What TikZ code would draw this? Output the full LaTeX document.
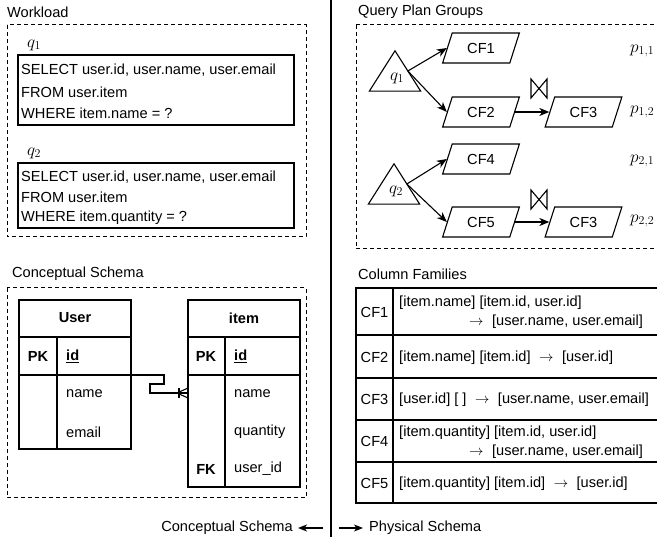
\documentclass[tikz,border=0pt]{standalone}
\usepackage[no-math]{fontspec}
\setmainfont{Liberation Sans}
\usetikzlibrary{shapes.geometric,arrows.meta,calc}
\newcommand{\myarr}{\hspace{8.5pt}$\rightarrow$\hspace{8.5pt}}
\tikzset{
  txt/.style={font=\fontsize{14.6pt}{17pt}\selectfont, inner sep=0pt, anchor=west},
  ctxt/.style={txt, anchor=center},
  mtxt/.style={inner sep=0pt, anchor=west, font=\fontsize{16.5pt}{19pt}\selectfont},
  cmtxt/.style={mtxt, anchor=center},
  ptxt/.style={inner sep=0pt, anchor=west, font=\fontsize{17.28pt}{20pt}\selectfont},
  dashbox/.style={draw, dash pattern=on 4pt off 3pt, line width=1pt},
  box/.style={draw, line width=1.1pt},
  cfshape/.style={trapezium, trapezium left angle=66, trapezium right angle=114,
    trapezium stretches=true, draw, line width=1.1pt, minimum width=77pt, minimum height=30pt,
    inner sep=0pt, font=\fontsize{14.6pt}{17pt}\selectfont},
  triframe/.style={minimum width=51pt, minimum height=40pt, inner sep=0pt},
  arr/.style={-{Stealth[length=10pt,width=8pt,inset=3pt]}, line width=1.1pt},
  sarr/.style={-{Stealth[length=9pt,width=7pt,inset=2.5pt]}, line width=1.1pt},
  ln/.style={line width=1.1pt},
}
\begin{document}
\begin{tikzpicture}[x=1pt,y=-1pt]
\clip (0,0) rectangle (657,540);
% ---------------- Workload
\node[txt] (wl) at (7,12) {Workload};
\draw[dashbox] (7,25) rectangle (306,237);
\node[cmtxt] (q1l) at (34,45) {$q_1$};
\draw[box] (18,55) rectangle (294,125);
\node[txt] (q1a) at (21,70) {SELECT user.id, user.name, user.email};
\node[txt] (q1b) at (21,92) {FROM user.item};
\node[txt] (q1c) at (21,113) {WHERE item.name = ?};
\node[cmtxt] (q2l) at (34,153) {$q_2$};
\draw[box] (18,163) rectangle (294,228);
\node[txt] (q2a) at (21,177) {SELECT user.id, user.name, user.email};
\node[txt] (q2b) at (21,197) {FROM user.item};
\node[txt] (q2c) at (21,218) {WHERE item.quantity = ?};
% ---------------- divider
\draw[ln] (331,0) -- (331,537);
\node[txt, anchor=east] (csb) at (293,528) {Conceptual Schema};
\node[txt] (psb) at (369,528) {Physical Schema};
\coordinate (dl) at (323,528);
\coordinate (dr) at (339,528);
\draw[sarr, shorten >=5pt] (dl) -- (csb);
\draw[sarr, shorten >=6pt] (dr) -- (psb);
% ---------------- Conceptual Schema
\node[txt] (csl) at (12,274) {Conceptual Schema};
\draw[dashbox] (7,288) rectangle (306,498);
% User table
\draw[box] (19,300) rectangle (131,449);
\draw[ln] (19,337) -- (131,337);
\draw[ln] (19,375) -- (131,375);
\draw[ln] (57,337) -- (57,449);
\node[ctxt] (ut) at (75,318) {\textbf{User}};
\node[ctxt] (upk) at (38,356) {\textbf{PK}};
\node[txt] (uid) at (66,356) {\textbf{\underline{id}}};
\node[txt] (uname) at (66,394) {name};
\node[txt] (uemail) at (66,432) {email};
% item table
\draw[box] (188,300) rectangle (300,487);
\draw[ln] (188,337) -- (300,337);
\draw[ln] (188,375) -- (300,375);
\draw[ln] (225,337) -- (225,487);
\node[ctxt] (it) at (244,318) {\textbf{item}};
\node[ctxt] (ipk) at (206,356) {\textbf{PK}};
\node[txt] (iid) at (234,356) {\textbf{\underline{id}}};
\node[txt] (iname) at (234,394) {name};
\node[txt] (iqty) at (234,432) {quantity};
\node[ctxt] (ifk) at (206,469) {\textbf{FK}};
\node[txt] (iuid) at (234,469) {user\_id};
% relation
\coordinate (ra) at (128,375);
\coordinate (rb) at (188,393);
\draw[ln] (ra) -- (164,375) -- (164,384) -- (150,384) -- (150,393) -- (rb);
\draw[ln] (179,388) -- (179,398);
\draw[ln] (177,393) -- (188,388);
\draw[ln] (177,393) -- (188,398);
% ---------------- Query Plan Groups
\node[txt] (qpl) at (358,12) {Query Plan Groups};
\draw[dashbox] (356,25) rectangle (680,249);
% triangles
\node[triframe] (t1) at (395,71) {};
\draw[ln, line join=miter] (t1.south west) -- (t1.north) -- (t1.south east) -- cycle;
\node[cmtxt] (t1l) at (397,78) {$q_1$};
\coordinate (t1s) at ($(t1.north)!0.5!(t1.south east)$);
\node[triframe] (t2) at (394,184) {};
\draw[ln, line join=miter] (t2.south west) -- (t2.north) -- (t2.south east) -- cycle;
\node[cmtxt] (t2l) at (396,191) {$q_2$};
\coordinate (t2s) at ($(t2.north)!0.5!(t2.south east)$);
% column family shapes
\node[cfshape] (cf1) at (481,48) {CF1};
\node[cfshape] (cf2) at (481,112) {CF2};
\node[cfshape] (cf3a) at (583.5,112) {CF3};
\node[cfshape] (cf4) at (481,159) {CF4};
\node[cfshape] (cf5) at (481,222) {CF5};
\node[cfshape] (cf3b) at (583.5,222) {CF3};
\draw[arr] (t1s) -- (cf1.west);
\draw[arr] (t1s) -- (cf2.west);
\draw[arr] (t2s) -- (cf4.west);
\draw[arr] (t2s) -- (cf5.west);
\draw[arr] (cf2.east) -- (cf3a.west);
\draw[arr] (cf5.east) -- (cf3b.west);
% bowties
\draw[ln] (531,79) -- (531,98) -- (547,79) -- (547,98) -- cycle;
\draw[ln] (531,190) -- (531,209) -- (547,190) -- (547,209) -- cycle;
\node[ptxt] (p11) at (630,51) {$p_{1,1}$};
\node[ptxt] (p12) at (630,112) {$p_{1,2}$};
\node[ptxt] (p21) at (630,161) {$p_{2,1}$};
\node[ptxt] (p22) at (630,221) {$p_{2,2}$};
% ---------------- Column Families
\node[txt] (cfl) at (358,274) {Column Families};
\draw[ln] (680,288) -- (356,288) -- (356,503) -- (680,503);
\draw[ln] (356,335) -- (680,335);
\draw[ln] (356,378) -- (680,378);
\draw[ln] (356,420) -- (680,420);
\draw[ln] (356,462) -- (680,462);
\draw[ln] (393,288) -- (393,503);
\node[ctxt] (r1) at (374.5,312) {CF1};
\node[ctxt] (r2) at (374.5,357) {CF2};
\node[ctxt] (r3) at (374.5,399) {CF3};
\node[ctxt] (r4) at (374.5,441) {CF4};
\node[ctxt] (r5) at (374.5,483) {CF5};
\node[txt] (r1a) at (399,303) {[item.name] [item.id, user.id]};
\node[txt] (r1b) at (469,322) {$\rightarrow$\hspace{8.5pt}[user.name, user.email]};
\node[txt] (r2a) at (399,358) {[item.name] [item.id]\myarr[user.id]};
\node[txt] (r3a) at (399,400) {[user.id] [ ]\myarr[user.name, user.email]};
\node[txt] (r4a) at (399,433) {[item.quantity] [item.id, user.id]};
\node[txt] (r4b) at (469,452) {$\rightarrow$\hspace{8.5pt}[user.name, user.email]};
\node[txt] (r5a) at (399,484) {[item.quantity] [item.id]\myarr[user.id]};
\end{tikzpicture}
\end{document}
